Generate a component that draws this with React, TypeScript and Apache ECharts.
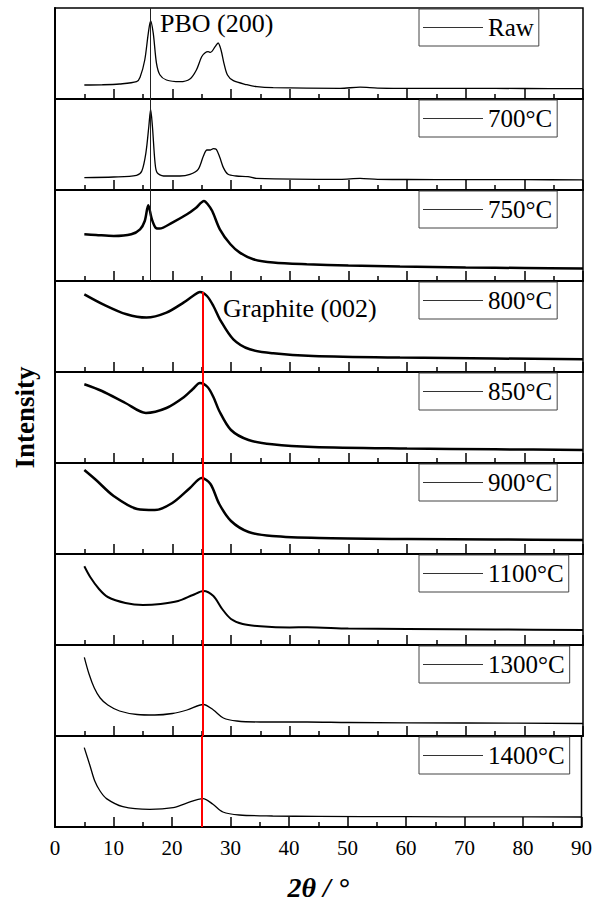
import React, { useEffect, useRef } from "react";
import * as echarts from "echarts";

const FONT = '"Liberation Serif", "Times New Roman", serif';

const panelNames = ["Raw", "700°C", "750°C", "800°C", "850°C", "900°C", "1100°C", "1300°C", "1400°C"];

const rawX = [5, 8, 11, 13.9, 14.5, 15.3, 15.9, 16.3, 16.75, 17.3, 17.9, 19, 21.3, 23, 24.1, 25, 25.6, 26.1, 26.5, 27.3, 27.8, 28.3, 28.8, 29.4, 30.4, 32.7, 34.4, 37.2, 48.6, 52, 55, 60, 70, 80, 90];
const rawY = [14, 14.2, 15, 17.3, 21.7, 39, 65.7, 78, 65.7, 35.7, 24, 19, 17.3, 20, 29, 42.3, 46.3, 47.3, 46.7, 52.3, 56, 49, 35.7, 24, 18.3, 14.3, 12.3, 11.3, 10.7, 11.8, 10.9, 10.7, 10.6, 10.5, 10.4];

const x700 = [5, 10, 13.9, 14.8, 15.5, 16, 16.3, 16.6, 17.05, 17.4, 18.5, 21.3, 23, 24.4, 25.3, 25.9, 26.5, 27, 27.5, 28.1, 28.7, 29.5, 30.9, 32.9, 34.3, 48.6, 52, 55, 60, 70, 80, 90];
const y700 = [12.4, 13, 14.7, 19, 37.4, 64, 80.7, 64, 27.4, 17.4, 14, 14, 15.7, 20.7, 34, 40, 40, 41.4, 40.7, 32.4, 22.4, 15.7, 14, 13.4, 11.7, 10.7, 11.6, 10.6, 10.5, 10.4, 10.3, 10.2];

const x750 = [5, 7, 10, 13, 14.5, 15.3, 15.9, 16.5, 17.2, 17.8, 20, 22.5, 24, 25.4, 26, 26.8, 28.1, 29.9, 31.5, 33.8, 37.2, 42.9, 50, 58.8, 70, 80, 90];
const y750 = [46.7, 46, 45, 46.7, 51.7, 60, 75.7, 62, 53, 52.4, 58.4, 66.7, 73, 80, 77, 70, 51.7, 36.7, 28.4, 21.7, 18.4, 16.7, 15.5, 14.4, 13.5, 13, 12.4];

const x800 = [5, 8.2, 12.2, 15.6, 19, 21.9, 23.5, 24.7, 25.9, 27, 28.1, 30.4, 33.2, 37.2, 44, 58.8, 75, 90];
const y800 = [77.7, 67.7, 57.7, 54.4, 59.4, 69.4, 76, 80, 76, 66, 52.7, 32.7, 22.7, 18.7, 16, 14.4, 13.5, 12.7];

const x850 = [5, 8, 12, 15.5, 19, 22, 23.5, 24.7, 26, 27, 28, 30, 33, 37, 44, 60, 75, 90];
const y850 = [78.7, 72, 60, 50, 55, 66, 74, 80, 76, 66, 52, 33, 23, 18.7, 16, 14.5, 13.7, 13];

const x900 = [5, 7, 10, 14, 17, 20, 23, 25, 26.5, 28, 30, 33, 37, 45, 60, 75, 90];
const y900 = [84, 74, 58, 45, 44, 51, 66, 76, 70, 50, 33, 22, 18, 16, 15, 14.5, 14];

const x1100 = [5, 6, 7.5, 9, 12, 15, 18, 21, 23.5, 25.3, 27, 28.5, 30, 32, 35, 40, 43, 50, 60, 75, 90];
const y1100 = [78.7, 68, 56, 48, 42, 40, 41, 44, 50, 54, 49, 36, 26, 21, 18.7, 17.5, 17.8, 16.5, 16, 15.5, 15];

const x1300 = [5, 5.8, 6.7, 7.7, 9, 11, 14, 17, 20, 22.5, 25.3, 27, 28.7, 31, 35, 43, 50, 70, 90];
const y1300 = [78.7, 62, 48, 38, 31, 25, 21.5, 21, 22.5, 26, 31.5, 26, 18, 15, 14, 14, 13.5, 13, 12.5];

const x1400 = [5, 6, 6.8, 7.7, 8.8, 11.6, 16.2, 20.2, 22.4, 25.3, 27, 28.7, 31.5, 37.2, 45, 60, 75, 90];
const y1400 = [79.4, 61, 46, 36, 28.4, 20.4, 17.7, 19.4, 23.7, 28.4, 22.7, 15, 12, 11, 10.6, 10.3, 10.1, 10];

const seriesX = [rawX, x700, x750, x800, x850, x900, x1100, x1300, x1400];
const seriesY = [rawY, y700, y750, y800, y850, y900, y1100, y1300, y1400];
const lineWidths = [1.3, 1.3, 2.5, 2.5, 2.5, 2.5, 2, 1.3, 1.3];

const pboPos = 16.3;
const graphitePos = 25.1;
const graphiteStart = 80;

const xTicks = { min: 0, max: 90, interval: 10 };

export default function App() {
  const ref = useRef<HTMLDivElement>(null);
  useEffect(() => {
    if (!ref.current) return;
    const chart = echarts.init(ref.current, undefined, { renderer: "svg" });
    const n = panelNames.length;
    const top0 = 8;
    const ph = 91;
    const grids: any[] = [];
    const xAxes: any[] = [];
    const yAxes: any[] = [];
    const series: any[] = [];
    const legends: any[] = [];
    for (let i = 0; i < n; i++) {
      grids.push({
        left: 55,
        right: 12,
        top: top0 + ph * i,
        height: ph,
        show: true,
        borderColor: "#000",
        borderWidth: 1.5,
      });
      xAxes.push({
        gridIndex: i,
        type: "value",
        min: xTicks.min,
        max: xTicks.max,
        interval: xTicks.interval,
        axisLine: { show: true, onZero: false, lineStyle: { color: "#000", width: 2 } },
        axisTick: { show: true, inside: true, length: 10, lineStyle: { color: "#000", width: 1.5 } },
        minorTick: { show: true, splitNumber: 2, length: 5, lineStyle: { color: "#000", width: 1.5 } },
        axisLabel: { show: i === n - 1, fontSize: 21, color: "#000", fontFamily: FONT, margin: 10 },
        splitLine: { show: false },
        name: i === n - 1 ? "2θ / °" : "",
        nameLocation: "middle",
        nameGap: 46,
        nameTextStyle: { fontSize: 28, fontWeight: "bold", fontStyle: "italic", color: "#000", fontFamily: FONT },
      });
      yAxes.push({
        gridIndex: i,
        type: "value",
        min: 0,
        max: ph,
        axisLine: { show: true, lineStyle: { color: "#000", width: 2 } },
        axisTick: { show: false },
        axisLabel: { show: false },
        splitLine: { show: false },
        name: i === 4 ? "Intensity" : "",
        nameLocation: "middle",
        nameRotate: 90,
        nameGap: 17,
        nameTextStyle: { fontSize: 27, fontWeight: "bold", color: "#000", fontFamily: FONT },
      });
      let markLine: any = undefined;
      if (i <= 2) {
        markLine = {
          silent: true,
          symbol: ["none", "none"],
          label: { show: false },
          lineStyle: { color: "#222", width: 1, type: "solid" },
          data: [{ xAxis: pboPos }],
        };
      } else if (i === 3) {
        markLine = {
          silent: true,
          symbol: ["none", "none"],
          label: { show: false },
          lineStyle: { color: "#ff0000", width: 2, type: "solid" },
          data: [[{ coord: [graphitePos, graphiteStart] }, { coord: [graphitePos, 0] }]],
        };
      } else {
        markLine = {
          silent: true,
          symbol: ["none", "none"],
          label: { show: false },
          lineStyle: { color: "#ff0000", width: 2, type: "solid" },
          data: [{ xAxis: graphitePos }],
        };
      }
      series.push({
        name: panelNames[i],
        type: "line",
        xAxisIndex: i,
        yAxisIndex: i,
        data: seriesX[i].map((x, k) => [x, seriesY[i][k]]),
        symbol: "none",
        showSymbol: false,
        smooth: 0.3,
        lineStyle: { color: "#000", width: lineWidths[i] },
        itemStyle: { color: "#000" },
        markLine,
        z: 3,
      });
      legends.push({
        data: [panelNames[i]],
        left: 419,
        top: top0 + ph * i + 1,
        orient: "horizontal",
        icon: "rect",
        itemWidth: 60,
        itemHeight: 1,
        itemStyle: { color: "#333", borderWidth: 0 },
        padding: [6, 5, 6, 4],
        borderColor: "#444",
        borderWidth: 1,
        backgroundColor: "#fff",
        selectedMode: false,
        textStyle: { fontSize: 25, lineHeight: 25, fontFamily: FONT, color: "#000" },
      });
    }
    chart.setOption({
      animation: false,
      backgroundColor: "#fff",
      grid: grids,
      xAxis: xAxes,
      yAxis: yAxes,
      series,
      legend: legends,
      graphic: [
        {
          type: "text",
          left: 160,
          top: 10,
          style: { text: "PBO (200)", fontSize: 26, fontFamily: FONT, fill: "#000" },
          z: 10,
        },
        {
          type: "text",
          left: 223,
          top: 295,
          style: { text: "Graphite (002)", fontSize: 26, fontFamily: FONT, fill: "#000" },
          z: 10,
        },
      ],
    });
    return () => chart.dispose();
  }, []);
  return (
    <div
      ref={ref}
      style={{ position: "fixed", left: 0, top: 0, width: 595, height: 903, background: "#fff" }}
    />
  );
}
